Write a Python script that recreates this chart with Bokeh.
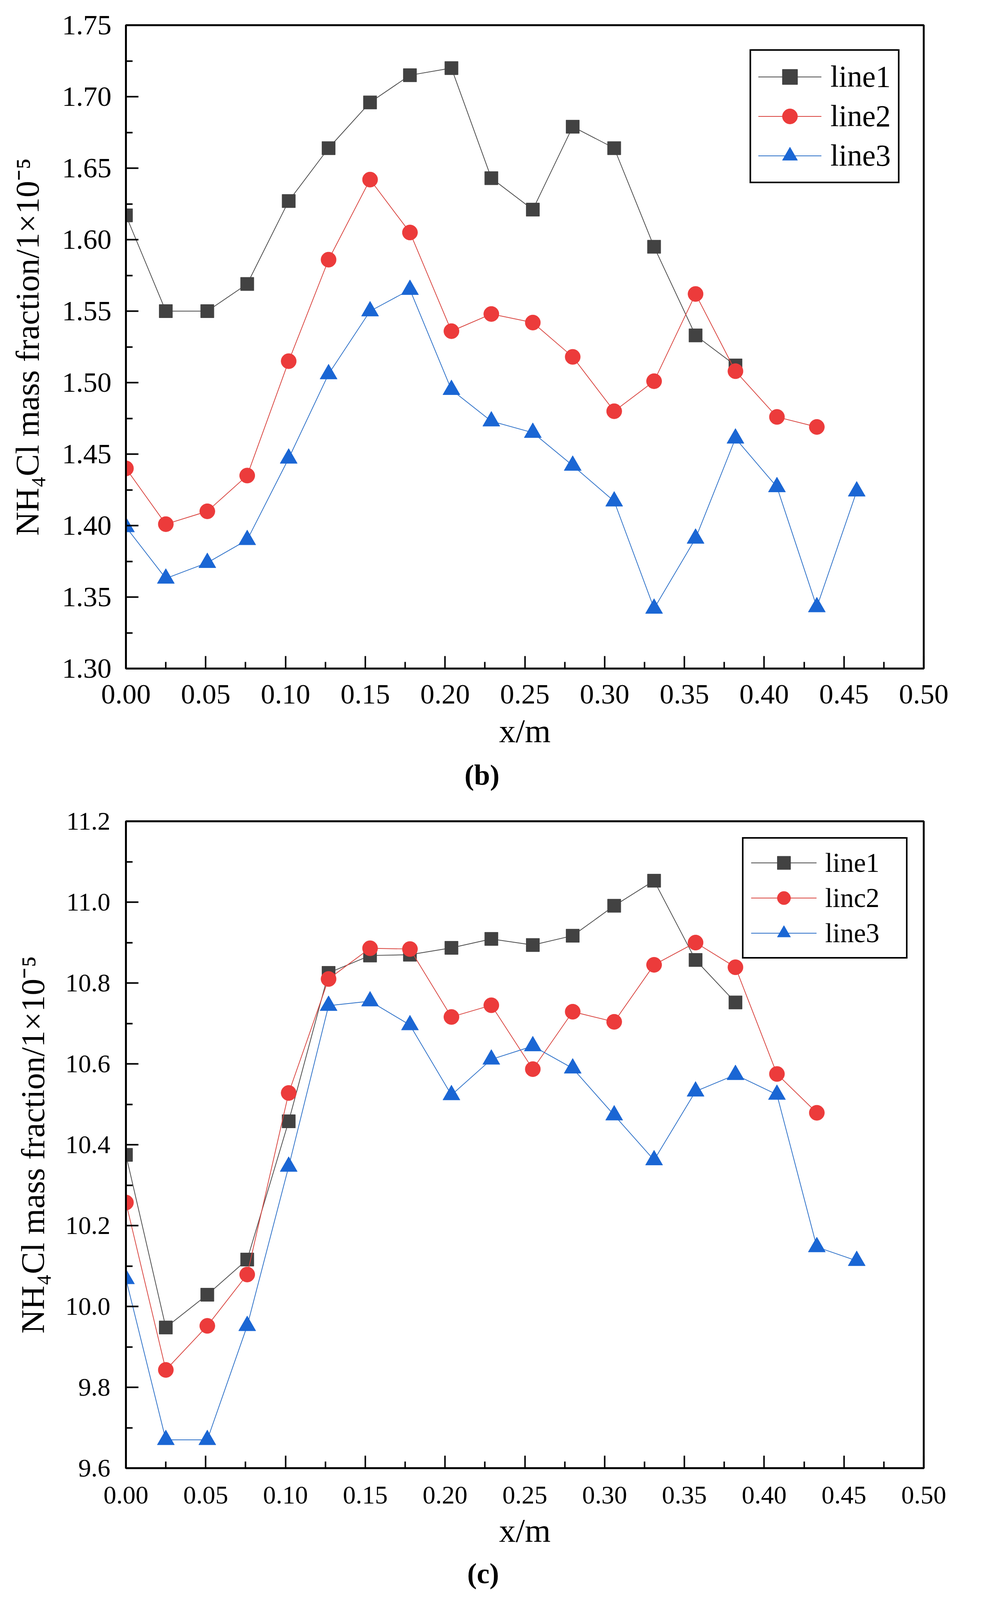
from bokeh.plotting import figure
from bokeh.models import (Range1d, FixedTicker, NumeralTickFormatter,
                          Legend, LegendItem, Title)
from bokeh.layouts import column
from bokeh.embed import file_html
from bokeh.resources import INLINE

# ---------------- data ----------------
x_pos = [0.000, 0.025, 0.051, 0.076, 0.102, 0.127, 0.153, 0.178, 0.204, 0.229,
         0.255, 0.280, 0.306, 0.331, 0.357, 0.382, 0.408, 0.433, 0.458]

# chart (b)
b_line1 = [1.617, 1.550, 1.550, 1.569, 1.627, 1.664, 1.696, 1.715, 1.720, 1.643,
           1.621, 1.679, 1.664, 1.595, 1.533, 1.512]
b_line2 = [1.440, 1.401, 1.410, 1.435, 1.515, 1.586, 1.642, 1.605, 1.536, 1.548,
           1.542, 1.518, 1.480, 1.501, 1.562, 1.508, 1.476, 1.469]
b_line3 = [1.399, 1.363, 1.374, 1.390, 1.447, 1.506, 1.550, 1.565, 1.495, 1.473,
           1.465, 1.442, 1.417, 1.342, 1.391, 1.461, 1.427, 1.343, 1.424]

# chart (c)
c_line1 = [10.375, 9.948, 10.029, 10.116, 10.458, 10.825, 10.868, 10.870, 10.887,
           10.909, 10.894, 10.917, 10.991, 11.053, 10.857, 10.752]
c_line2 = [10.257, 9.843, 9.952, 10.079, 10.528, 10.810, 10.886, 10.884, 10.716,
           10.745, 10.587, 10.729, 10.704, 10.845, 10.900, 10.839, 10.575, 10.479]
c_line3 = [10.068, 9.670, 9.670, 9.952, 10.346, 10.744, 10.755, 10.696, 10.523,
           10.611, 10.644, 10.589, 10.473, 10.362, 10.532, 10.573, 10.524, 10.147, 10.113]

b_labels = ["line1", "line2", "line3"]
c_labels = ["line1", "linc2", "line3"]

# tick values
x_ticks = [0.00, 0.05, 0.10, 0.15, 0.20, 0.25, 0.30, 0.35, 0.40, 0.45, 0.50]
x_minor = [0.025, 0.075, 0.125, 0.175, 0.225, 0.275, 0.325, 0.375, 0.425, 0.475]
b_yticks = [1.30, 1.35, 1.40, 1.45, 1.50, 1.55, 1.60, 1.65, 1.70, 1.75]
b_yminor = [1.325, 1.375, 1.425, 1.475, 1.525, 1.575, 1.625, 1.675, 1.725]
c_yticks = [9.6, 9.8, 10.0, 10.2, 10.4, 10.6, 10.8, 11.0, 11.2]
c_yminor = [9.7, 9.9, 10.1, 10.3, 10.5, 10.7, 10.9, 11.1]

y_title = "NH\u2084Cl mass fraction/1\u00d710\u207b\u2075"
x_title = "x/m"

FONT = "Liberation Serif"

COL_FILL = ["#424242", "#ec3b3b", "#1a66d4"]
COL_LINE = ["#4a4a4a", "#d9443f", "#2c70c8"]
MARKERS = ["square", "circle", "triangle"]

# the page is shown slightly magnified; all sizes are given in picture pixels
Z = 1.035


def px(v):
    return int(round(v / Z))


def fpx(v):
    return f"{v / Z:.1f}px"


MSIZE = [px(35), px(40), px(46)]
FIG_W = px(2548) - 16


def make_chart(series, labels, yr, yticks, yminor, y_fmt, css_top, css_bottom,
               frame, tick_fs, lab_fs, st, leg, tag, tag_center, tag_standoff):
    L, R, T, B = frame          # frame edges in picture pixels
    height = css_bottom - css_top
    bl = px(L) - 8
    br = (8 + FIG_W) - px(R)
    bt = px(T) - css_top
    bb = css_bottom - px(B)
    p = figure(width=FIG_W, height=height, output_backend="svg",
               toolbar_location=None, x_range=Range1d(0, 0.5),
               y_range=Range1d(*yr), min_border_left=bl, min_border_right=br,
               min_border_top=bt, min_border_bottom=bb)
    p.background_fill_color = "white"
    p.border_fill_color = "white"
    p.outline_line_color = "black"
    p.outline_line_width = 5 / Z
    p.outline_line_alpha = 1.0
    p.xgrid.visible = False
    p.ygrid.visible = False

    p.xaxis.ticker = FixedTicker(ticks=x_ticks, minor_ticks=x_minor)
    p.yaxis.ticker = FixedTicker(ticks=yticks, minor_ticks=yminor)
    p.xaxis.formatter = NumeralTickFormatter(format="0.00")
    p.yaxis.formatter = NumeralTickFormatter(format=y_fmt)
    p.xaxis.axis_label = x_title
    p.yaxis.axis_label = y_title
    for ax in (p.xaxis[0], p.yaxis[0]):
        ax.axis_line_width = 5 / Z
        ax.axis_line_color = "black"
        ax.major_tick_in = px(33)
        ax.major_tick_out = 0
        ax.minor_tick_in = px(18)
        ax.minor_tick_out = 0
        ax.major_tick_line_width = 4 / Z
        ax.minor_tick_line_width = 4 / Z
        ax.major_tick_line_color = "black"
        ax.minor_tick_line_color = "black"
        ax.major_label_text_font = FONT
        ax.major_label_text_font_size = fpx(tick_fs)
        ax.major_label_text_color = "black"
        ax.axis_label_text_font = FONT
        ax.axis_label_text_font_size = fpx(lab_fs)
        ax.axis_label_text_font_style = "normal"
        ax.axis_label_text_color = "black"
    p.xaxis.major_label_standoff = px(st[0])
    p.xaxis.axis_label_standoff = st[1]
    p.yaxis.major_label_standoff = px(st[2])
    p.yaxis.axis_label_standoff = px(st[3])

    items = []
    for i, ys in enumerate(series):
        xs = x_pos[:len(ys)]
        r_line = p.line(xs, ys, line_color=COL_LINE[i], line_width=2 / Z)
        r_sc = p.scatter(xs, ys, marker=MARKERS[i], size=MSIZE[i],
                         fill_color=COL_FILL[i], line_color=COL_FILL[i], line_width=1)
        items.append(LegendItem(label=labels[i], renderers=[r_line, r_sc]))

    legend = Legend(items=items, location="top_right", margin=px(leg["margin"]),
                    padding=px(leg["padding"]), spacing=px(leg["spacing"]),
                    glyph_width=px(leg["gw"]), glyph_height=px(leg["gh"]),
                    label_height=px(leg["gh"]), label_standoff=px(leg["standoff"]),
                    label_width=px(leg["lw"]),
                    label_text_font=FONT, label_text_font_size=fpx(leg["fs"]),
                    label_text_color="black",
                    border_line_color="black", border_line_width=5 / Z,
                    border_line_alpha=1.0,
                    background_fill_color="white", background_fill_alpha=1.0)
    p.add_layout(legend)

    # panel tag below the x-axis title, centred on tag_center (picture px)
    tag_fs = 76 / Z
    tag_w = (0.333 + (0.556 if tag == "b" else 0.444) + 0.333) * tag_fs
    offset = int(round(tag_center / Z - tag_w / 2 - L / Z))
    p.add_layout(Title(text=f"({tag})", align="left", offset=offset,
                       standoff=tag_standoff, text_font=FONT,
                       text_font_size=f"{tag_fs:.1f}px", text_font_style="bold",
                       text_color="black"), "below")
    return p


FIG1_TOP = 8
SPLIT = 2070                      # css px where the second chart begins
PAGE_END = px(4248) - 8

p_b = make_chart([b_line1, b_line2, b_line3], b_labels, (1.30, 1.75),
                 b_yticks, b_yminor, "0.00", FIG1_TOP, SPLIT,
                 (342, 2456, 75, 1779), 75, 88, (43, 20, 38, 40),
                 dict(margin=64, padding=19, spacing=4, gw=168, gh=100, standoff=24,
                      lw=20, fs=80),
                 "b", 1286, 43)

p_c = make_chart([c_line1, c_line2, c_line3], c_labels, (9.6, 11.2),
                 c_yticks, c_yminor, "0.0", SPLIT, PAGE_END,
                 (338, 2466, 2184, 3898), 68, 88, (49, 19, 41, 35),
                 dict(margin=42, padding=20, spacing=5, gw=174, gh=88, standoff=23,
                      lw=195, fs=72),
                 "c", 1285, 36)

layout = column(p_b, p_c, spacing=0)

open("out.html", "w").write(file_html(layout, INLINE))
